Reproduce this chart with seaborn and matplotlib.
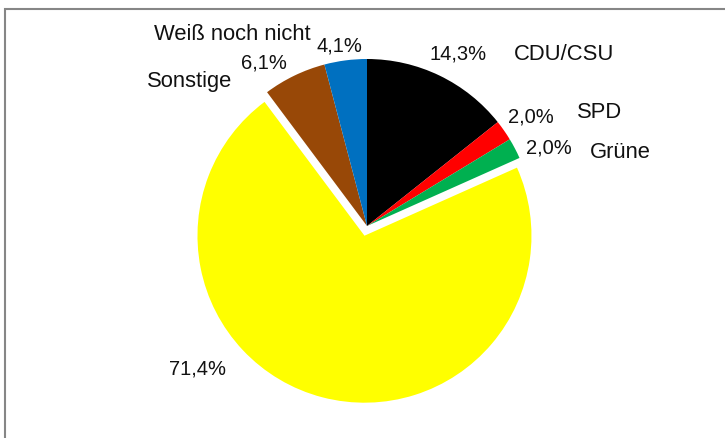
import numpy as np
import matplotlib
matplotlib.use("Agg")
import matplotlib.pyplot as plt
import seaborn as sns
from matplotlib.patches import Rectangle

# data
parties = ["CDU/CSU", "SPD", "Grüne", "", "Sonstige", "Weiß noch nicht"]
shares = [14.3, 2.0, 2.0, 71.4, 6.1, 4.1]
colors = ["#000000", "#ff0000", "#00b050", "#ffff00", "#984807", "#0070c0"]
explode_frac = [0, 0, 0, 0.06, 0, 0]

# label placement in pixels (x, y from top-left): percentage, name
W, H = 725, 439
pct_pos = [(458, 54), (531, 117), (549, 148), (197, 369), (264, 63), (339, 46)]
name_pos = [(564, 54), (600, 112), (620, 152), None, (190, 82), (232, 34)]
radius = 167

sns.set_theme(style="white")
plt.rcParams["font.family"] = ["Liberation Sans", "DejaVu Sans"]

fig = plt.figure(figsize=(W / 100, H / 100), dpi=100)
ax = fig.add_axes([0, 0, 1, 1])

# frame of the chart area (only top and left edge fall inside the picture)
fig.patches.append(Rectangle((5 / W, -0.1), 1.2, (H - 10) / H + 0.1,
                             transform=fig.transFigure, fill=False,
                             edgecolor="#868686", linewidth=1.5))

# pie's explode is in data units, so scale it by the radius
ax.pie(shares, colors=colors, explode=[e * radius for e in explode_frac],
       startangle=90, counterclock=False, center=(367, H - 227),
       radius=radius, wedgeprops=dict(linewidth=0), frame=True)
ax.set_xlim(0, W)
ax.set_ylim(0, H)
ax.set_aspect("equal")
ax.axis("off")

for name, v, p, n in zip(parties, shares, pct_pos, name_pos):
    ax.text(p[0], H - p[1], f"{v:.1f}".replace(".", ",") + "%",
            ha="center", va="center", fontsize=14.5, color="#111111")
    if n is not None and name:
        ax.text(n[0], H - n[1], name, ha="center", va="center",
                fontsize=15.8, color="#111111")

fig.savefig("out.png", dpi=100)
